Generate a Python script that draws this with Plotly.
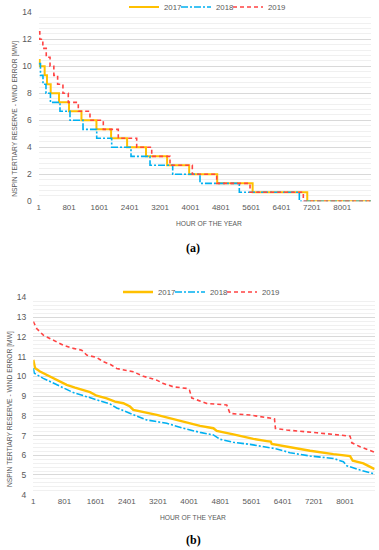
import plotly.graph_objects as go

# ---------------- data: panel (a) step curves (hour where level starts, level MW)
hours_a_2017 = [1, 27, 158, 219, 317, 537, 800, 1128, 1523, 1909, 2331, 2830, 3386, 3967, 4706, 5640, 7080, 8760]
mw_a_2017 = [10.47, 10.0, 9.33, 8.67, 8.0, 7.33, 6.67, 6.0, 5.33, 4.67, 4.0, 3.33, 2.67, 2.0, 1.33, 0.67, 0.0, 0.0]

hours_a_2018 = [1, 48, 114, 193, 310, 562, 826, 1169, 1530, 1925, 2434, 2935, 3533, 4253, 5289, 6871, 8760]
mw_a_2018 = [10.2, 9.33, 8.67, 8.0, 7.33, 6.67, 6.0, 5.33, 4.67, 4.0, 3.33, 2.67, 2.0, 1.33, 0.67, 0.0, 0.0]

hours_a_2019 = [1, 30, 110, 200, 300, 400, 500, 640, 781, 1045, 1353, 1704, 2099, 2584, 2980, 3462, 4050, 4693, 5571, 6976, 8760]
mw_a_2019 = [12.56, 12.0, 11.33, 10.67, 10.0, 9.33, 8.67, 8.0, 7.33, 6.67, 6.0, 5.33, 4.67, 4.0, 3.33, 2.67, 2.0, 1.33, 0.67, 0.0, 0.0]

# ---------------- data: panel (b) smooth duration curves
hours_b_2017 = [1, 45, 173, 430, 686, 858, 1071, 1285, 1457, 1628, 1885, 2098, 2311, 2483, 2568, 3169, 3425, 3767, 4280, 4622, 4709, 5135, 5648, 5992, 6095, 6120, 6590, 7104, 7702, 8131, 8200, 8472, 8559, 8760]
mw_b_2017 = [10.84, 10.42, 10.25, 9.99, 9.74, 9.57, 9.43, 9.31, 9.2, 9.02, 8.89, 8.72, 8.64, 8.47, 8.3, 8.05, 7.93, 7.76, 7.49, 7.37, 7.23, 7.06, 6.83, 6.72, 6.69, 6.57, 6.4, 6.23, 6.06, 5.96, 5.72, 5.59, 5.5, 5.3]

hours_b_2018 = [1, 27, 258, 514, 771, 1028, 1371, 1713, 1970, 2141, 2568, 2910, 3425, 3852, 4280, 4622, 4793, 5135, 5563, 5991, 6248, 6590, 7104, 7702, 7959, 8045, 8387, 8760]
mw_b_2018 = [10.42, 10.16, 9.9, 9.65, 9.4, 9.18, 8.97, 8.77, 8.6, 8.4, 8.05, 7.79, 7.62, 7.37, 7.16, 7.03, 6.81, 6.66, 6.55, 6.43, 6.32, 6.13, 5.96, 5.84, 5.67, 5.47, 5.25, 5.05]

hours_b_2019 = [1, 88, 258, 514, 771, 1028, 1243, 1372, 1628, 1798, 1970, 2142, 2568, 2825, 3169, 3338, 3595, 3939, 4010, 4070, 4452, 4965, 4991, 5050, 5564, 6077, 6190, 6215, 6506, 7276, 8131, 8175, 8388, 8760]
mw_b_2019 = [12.78, 12.43, 12.09, 11.84, 11.58, 11.42, 11.33, 11.08, 10.96, 10.74, 10.62, 10.4, 10.23, 10.01, 9.81, 9.64, 9.47, 9.39, 9.3, 8.9, 8.63, 8.55, 8.38, 8.12, 8.04, 7.87, 7.85, 7.36, 7.28, 7.14, 6.97, 6.63, 6.43, 6.15]

hour_ticks = [1, 801, 1601, 2401, 3201, 4001, 4801, 5601, 6401, 7201, 8001]
years = ["2017", "2018", "2019"]

# ---------------- styling
W, H = 379, 550
colors = {"2017": "#FFC000", "2018": "#00B0F0", "2019": "#FF4343"}
dashes = {"2017": "solid", "2018": "7px,2px,2px,2px", "2019": "4px,3px"}
widths = {"2017": 2.0, "2018": 1.6, "2019": 1.6}
FONT = "Liberation Sans"
GRAY = "#595959"

def px_x(p):
    return p / W

def px_y(p):
    return 1 - p / H

fig = go.Figure()

series_a = {"2017": (hours_a_2017, mw_a_2017), "2018": (hours_a_2018, mw_a_2018), "2019": (hours_a_2019, mw_a_2019)}
series_b = {"2017": (hours_b_2017, mw_b_2017), "2018": (hours_b_2018, mw_b_2018), "2019": (hours_b_2019, mw_b_2019)}

for y in years:
    hx, vy = series_a[y]
    fig.add_trace(go.Scatter(x=hx, y=vy, mode="lines", name=y, line_shape="hv",
                             line=dict(color=colors[y], width=widths[y], dash=dashes[y]),
                             xaxis="x", yaxis="y", legend="legend"))
for y in years:
    hx, vy = series_b[y]
    fig.add_trace(go.Scatter(x=hx, y=vy, mode="lines", name=y,
                             line=dict(color=colors[y], width=widths[y] + (0.4 if y == "2017" else 0), dash=dashes[y]),
                             xaxis="x2", yaxis="y2", legend="legend2"))
# invisible spacer entries so the last legend label is not clipped
for ax, lg in (("", "legend"), ("2", "legend2")):
    fig.add_trace(go.Scatter(x=[None], y=[None], mode="lines", name=" ", line=dict(width=0),
                             xaxis="x" + ax, yaxis="y" + ax, legend=lg, hoverinfo="skip"))

xcommon = dict(range=[1, 8760], tickmode="array", tickvals=hour_ticks, ticktext=[str(t) for t in hour_ticks],
               showgrid=False, zeroline=False, showline=False, ticks="",
               tickfont=dict(family=FONT, size=8, color=GRAY))
ycommon = dict(showgrid=True, gridcolor="#D9D9D9", gridwidth=1, zeroline=False, showline=False, ticks="",
               tickfont=dict(family=FONT, size=8.5, color=GRAY), ticklabelstandoff=6)

legcommon = dict(orientation="h", xanchor="left", yanchor="middle", font=dict(family=FONT, size=7.8, color=GRAY),
                 itemwidth=30, bgcolor="rgba(0,0,0,0)", entrywidth=7, entrywidthmode="pixels")

fig.update_layout(
    width=W, height=H,
    margin=dict(l=0, r=0, t=0, b=0, autoexpand=False),
    paper_bgcolor="white", plot_bgcolor="white",
    showlegend=True,
    xaxis=dict(domain=[px_x(38.7), px_x(371)], anchor="y", **xcommon),
    yaxis=dict(domain=[px_y(201.3), px_y(12.3)], anchor="x", range=[0, 14], dtick=2,
               minor=dict(dtick=0.4, showgrid=True, gridcolor="#F0F0F0", gridwidth=1), **ycommon),
    xaxis2=dict(domain=[px_x(33.3), px_x(374.6)], anchor="y2", **xcommon),
    yaxis2=dict(domain=[px_y(494.7), px_y(297.5)], anchor="x2", range=[4, 14], dtick=1,
                minor=dict(dtick=0.2, showgrid=True, gridcolor="#F0F0F0", gridwidth=1), **ycommon),
    legend=dict(x=px_x(124), y=px_y(7), **legcommon),
    legend2=dict(x=px_x(118), y=px_y(292), **legcommon),
)

def vtitle(x, y):
    return dict(text="NSPIN TERTIARY RESERVE - WIND ERROR [MW]", x=px_x(x), y=px_y(y), xref="paper", yref="paper",
                xanchor="center", yanchor="middle", showarrow=False, textangle=-90,
                font=dict(family=FONT, size=6.7, color=GRAY))

def htitle(text, x, y, fam, size, color):
    return dict(text=text, x=px_x(x), y=px_y(y), xref="paper", yref="paper",
                xanchor="center", yanchor="middle", showarrow=False,
                font=dict(family=fam, size=size, color=color))

ann = [
    vtitle(14.3, 118.5),
    htitle("HOUR OF THE YEAR", 209, 223, FONT, 6.7, GRAY),
    htitle("<b>(a)</b>", 193, 248, "Liberation Serif", 12, "black"),
    vtitle(10, 409),
    htitle("HOUR OF THE YEAR", 193, 517.5, FONT, 6.7, GRAY),
    htitle("<b>(b)</b>", 193, 540, "Liberation Serif", 12, "black"),
]
fig.update_layout(annotations=ann)

fig.write_html("out.html", config={"displayModeBar": False},
               post_script="document.body.style.margin='0px';document.body.style.overflow='hidden';")
